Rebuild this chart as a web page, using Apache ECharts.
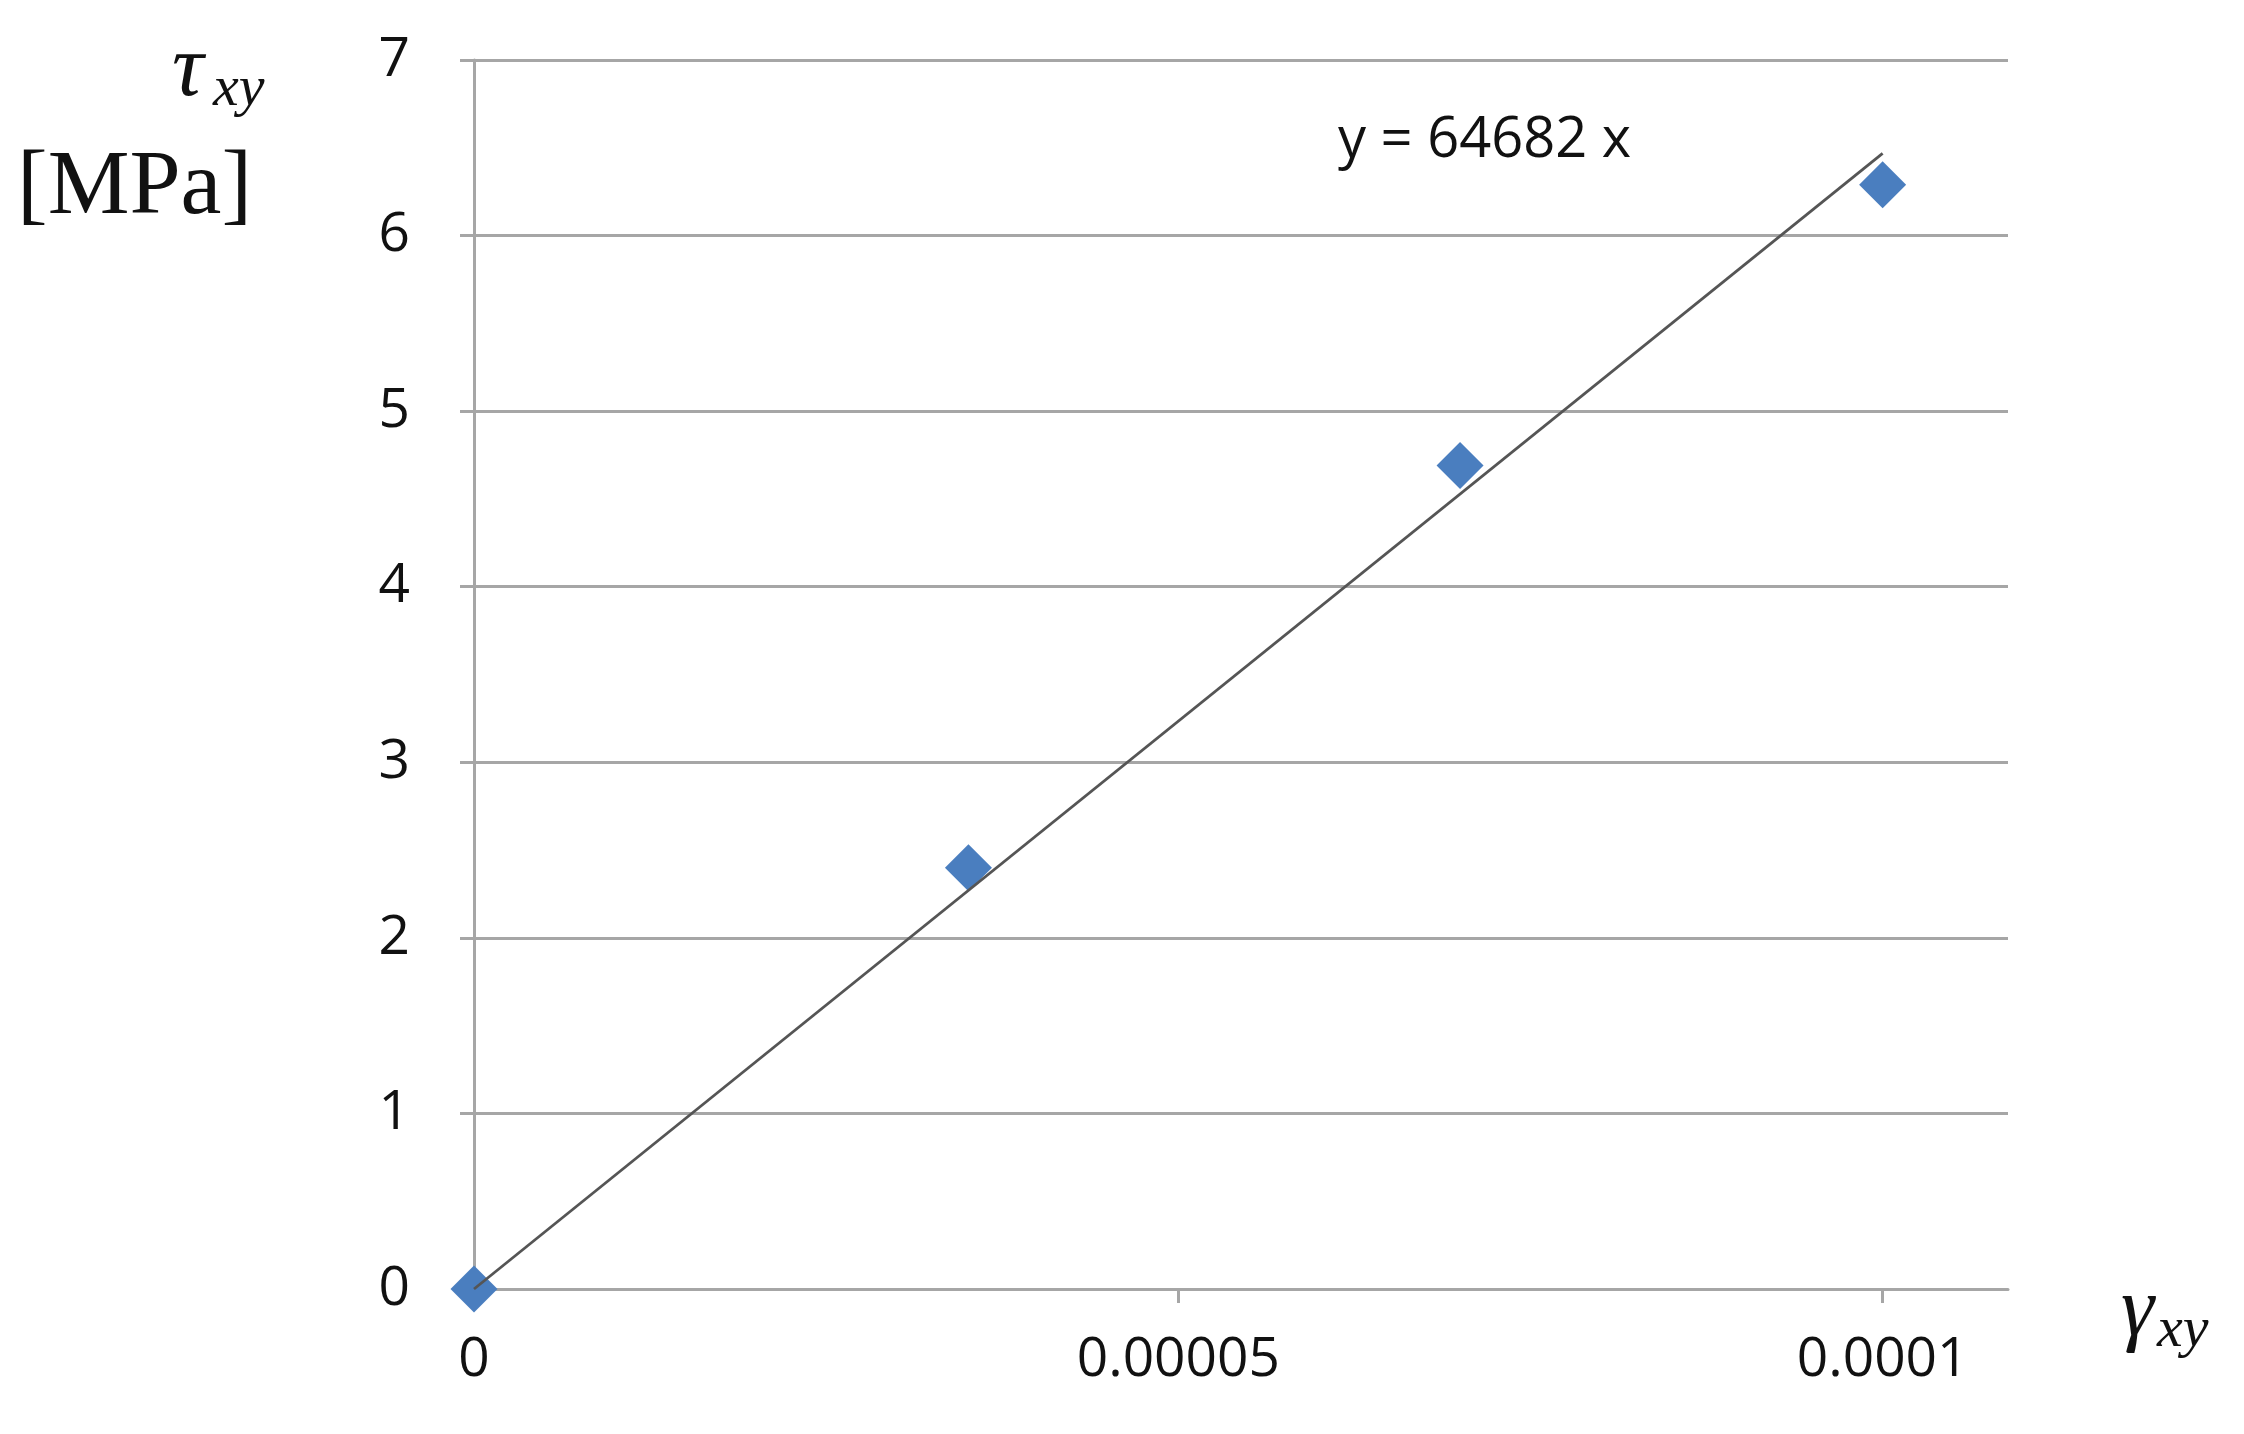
<!DOCTYPE html>
<html>
<head>
<meta charset="utf-8">
<script src="https://cdn.jsdelivr.net/npm/echarts@6/dist/echarts.min.js"></script>
<style>
html,body{margin:0;padding:0;background:#fff;}
#chart{width:2244px;height:1434px;}
</style>
</head>
<body>
<div id="chart"></div>
<script>
// Data
const strainValues = [0, 0.0000351, 0.00007, 0.0001];   // gamma_xy
const stressValues = [0, 2.40, 4.69, 6.29];             // tau_xy [MPa]
const trendX = [0, 0.0001];
const trendY = [0, 6.4682];                              // y = 64682 x
const xTickValues = [0, 0.00005, 0.0001];
const xTickLabels = ['0', '0.00005', '0.0001'];
const yTickLabels = ['0', '1', '2', '3', '4', '5', '6', '7'];
const equationText = 'y = 64682 x';

const chart = echarts.init(document.getElementById('chart'), null, {renderer: 'canvas'});
const gridColor = '#a6a6a6';
const labelFont = {fontFamily: 'Open Sans', fontSize: 55, color: '#111111'};

const option = {
  backgroundColor: '#ffffff',
  animation: false,
  grid: {left: 474, right: 236, top: 60, bottom: 145, containLabel: false},
  xAxis: {
    type: 'value',
    min: 0,
    max: 0.0001089,
    interval: 0.00005,
    axisLine: {show: true, lineStyle: {color: gridColor, width: 3}},
    axisTick: {show: true, length: 14, inside: false, customValues: xTickValues, lineStyle: {color: gridColor, width: 3}},
    axisLabel: Object.assign({
      margin: 44,
      customValues: xTickValues,
      formatter: function (v) {
        const i = xTickValues.findIndex(t => Math.abs(t - v) < 1e-9);
        return i >= 0 ? xTickLabels[i] : '';
      }
    }, labelFont),
    splitLine: {show: false}
  },
  yAxis: {
    type: 'value',
    min: 0,
    max: 7,
    interval: 1,
    axisLine: {show: true, lineStyle: {color: gridColor, width: 3}},
    axisTick: {show: true, length: 14, inside: false, lineStyle: {color: gridColor, width: 3}},
    axisLabel: Object.assign({
      margin: 64,
      formatter: function (v) { return yTickLabels[Math.round(v)] ?? ''; }
    }, labelFont),
    splitLine: {show: true, lineStyle: {color: gridColor, width: 3}}
  },
  series: [
    {
      type: 'scatter',
      data: strainValues.map((x, i) => [x, stressValues[i]]),
      symbol: 'diamond',
      symbolSize: 47,
      itemStyle: {color: '#4A7EBF', opacity: 1},
      z: 3
    },
    {
      type: 'line',
      data: trendX.map((x, i) => [x, trendY[i]]),
      showSymbol: false,
      symbol: 'none',
      lineStyle: {color: '#555555', width: 2.8},
      z: 4
    }
  ],
  graphic: [
    {type: 'text', left: 1338, top: 113, style: {text: equationText, font: '56px "Open Sans"', fill: '#111111'}},
    {type: 'text', x: 172, y: 72, style: {text: 'τ', font: 'italic 88px "Liberation Serif"', fill: '#111111', verticalAlign: 'middle'}},
    {type: 'text', x: 213, y: 90, style: {text: 'xy', font: 'italic 58px "Liberation Serif"', fill: '#111111', verticalAlign: 'middle'}},
    {type: 'text', x: 17, y: 189, style: {text: '[MPa]', font: '92px "Liberation Serif"', fill: '#111111', verticalAlign: 'middle'}},
    {type: 'text', x: 2121, y: 1313, style: {text: 'γ', font: 'italic 84px "Liberation Serif"', fill: '#111111', verticalAlign: 'middle'}},
    {type: 'text', x: 2157, y: 1331, style: {text: 'xy', font: 'italic 58px "Liberation Serif"', fill: '#111111', verticalAlign: 'middle'}}
  ]
};
chart.setOption(option);
</script>
</body>
</html>
